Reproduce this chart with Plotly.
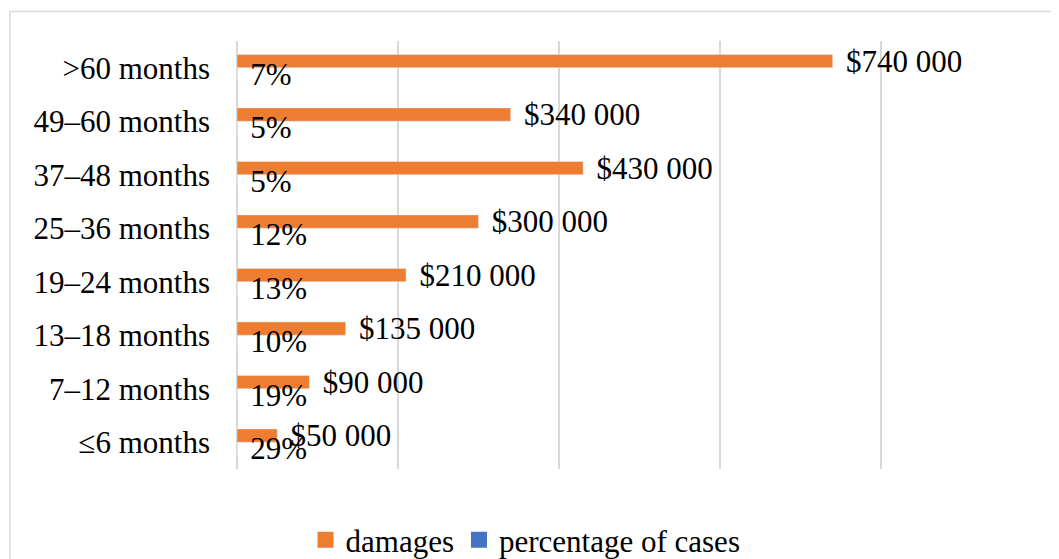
import plotly.graph_objects as go

categories = [">60 months", "49–60 months", "37–48 months", "25–36 months",
              "19–24 months", "13–18 months", "7–12 months", "≤6 months"]
damages = [740000, 340000, 430000, 300000, 210000, 135000, 90000, 50000]
damage_labels = ["$740 000", "$340 000", "$430 000", "$300 000",
                 "$210 000", "$135 000", "$90 000", "$50 000"]
pct_cases = [0.07, 0.05, 0.05, 0.12, 0.13, 0.10, 0.19, 0.29]
series_names = ["damages", "percentage of cases"]

FONT = "Liberation Serif"
FS = 31
ORANGE = "#ED7D31"
BLUE = "#4472C4"
GRID = "#D9D9D9"

fig = go.Figure()
fig.add_trace(go.Bar(
    name=series_names[0], y=categories, x=damages, orientation="h",
    marker_color=ORANGE, showlegend=False,
    text=["\u2004" + t for t in damage_labels], textposition="outside",
    textfont=dict(family=FONT, size=FS, color="black"),
    constraintext="none", cliponaxis=False,
))
fig.add_trace(go.Bar(
    name=series_names[1], y=categories, x=pct_cases, orientation="h",
    marker_color=BLUE, showlegend=False,
    texttemplate="\u2004%{x:.0%}", textposition="outside",
    textfont=dict(family=FONT, size=FS, color="black"),
    constraintext="none", cliponaxis=False,
))
# legend entries with larger square swatches
for nm, col in zip(series_names, [ORANGE, BLUE]):
    fig.add_trace(go.Scatter(
        name=nm, x=[None], y=[None], mode="markers",
        marker=dict(symbol="square", size=17, color=col),
        hoverinfo="skip",
    ))

fig.update_layout(
    width=1051, height=551,
    margin=dict(l=229, r=17, t=33, b=90),
    paper_bgcolor="white", plot_bgcolor="white",
    barmode="group", bargap=0.5, bargroupgap=0,
    font=dict(family=FONT, size=FS, color="black"),
    showlegend=True,
    legend=dict(orientation="h", xref="container", yref="container",
                x=0.4924, xanchor="center", y=0.0345, yanchor="middle",
                font=dict(family=FONT, size=FS, color="black"),
                itemwidth=30, traceorder="normal"),
    xaxis=dict(range=[0, 1000000], dtick=200000, showgrid=True,
               gridcolor=GRID, gridwidth=1.5, zeroline=True,
               zerolinecolor=GRID, zerolinewidth=1.5,
               showticklabels=False, showline=False, ticks=""),
    yaxis=dict(autorange="reversed", showgrid=False, showline=False,
               ticks="", ticklabelstandoff=26,
               tickfont=dict(family=FONT, size=FS, color="black")),
    shapes=[dict(type="rect", xref="paper", yref="paper",
                 x0=-0.282, x1=1.05, y0=-0.25, y1=1.069,
                 line=dict(color=GRID, width=1.5), layer="below")],
)

fig.write_html("out.html")
